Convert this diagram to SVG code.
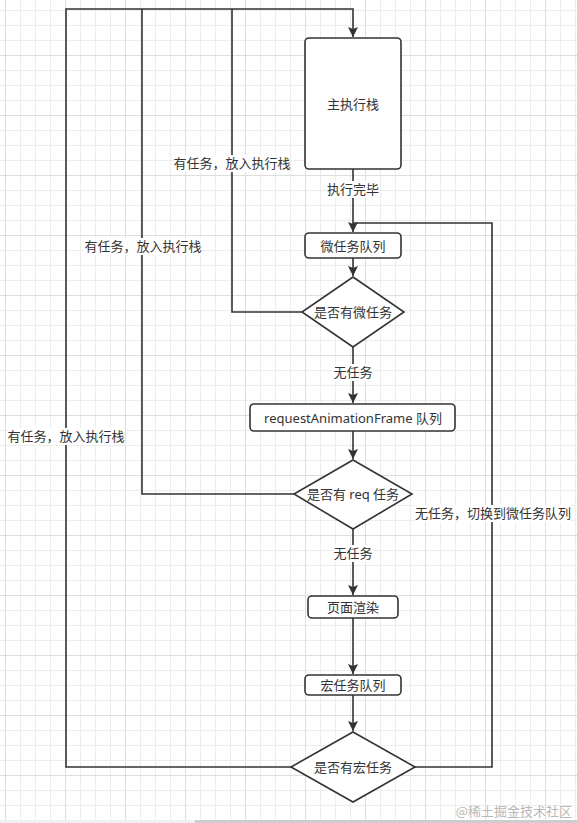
<svg xmlns="http://www.w3.org/2000/svg" width="577" height="823" viewBox="0 0 577 823">
<style>
  .node { fill: #ffffff; stroke: #333333; stroke-width: 1.6; }
  .conn { fill: none; stroke: #333333; stroke-width: 1.6; }
  .t { font-family: "Noto Sans", "Noto Sans CJK SC", sans-serif; font-size: 13px; fill: #333333; text-anchor: middle; dominant-baseline: central; }
  .lbg { fill: #ffffff; }
  .wm { font-family: "Noto Sans CJK SC", sans-serif; font-size: 13px; fill: #b8b8b8; text-anchor: end; dominant-baseline: central; }
</style>
<defs>
  <pattern id="grid" x="5" y="-5" width="60" height="60" patternUnits="userSpaceOnUse">
    <rect x="15" y="0" width="1" height="60" fill="#ededed"/>
    <rect x="30" y="0" width="1" height="60" fill="#ededed"/>
    <rect x="45" y="0" width="1" height="60" fill="#ededed"/>
    <rect x="0" y="15" width="60" height="1" fill="#ededed"/>
    <rect x="0" y="30" width="60" height="1" fill="#ededed"/>
    <rect x="0" y="45" width="60" height="1" fill="#ededed"/>
    <rect x="0" y="0" width="1" height="60" fill="#dedede"/>
    <rect x="0" y="0" width="60" height="1" fill="#dedede"/>
  </pattern>
  <marker id="arr" viewBox="0 0 10 10" refX="10" refY="5" markerWidth="10" markerHeight="10" markerUnits="userSpaceOnUse" orient="auto">
    <path d="M0,0 L10,5 L0,10 L2,5 Z" fill="#333333"/>
  </marker>
</defs>
<rect x="0" y="0" width="577" height="823" fill="#ffffff"/>
<rect x="0" y="0" width="577" height="823" fill="url(#grid)"/>

<g id="connectors">
  <path class="conn" d="M291,767 H66 V9 H353 V37" marker-end="url(#arr)"/>
  <path class="conn" d="M294,494 H142 V9"/>
  <path class="conn" d="M302,312 H232 V9"/>
  <path class="conn" d="M353,169 V232" marker-end="url(#arr)"/>
  <path class="conn" d="M415,767 H492 V223 H353"/>
  <path class="conn" d="M353,258 V276" marker-end="url(#arr)"/>
  <path class="conn" d="M353,347 V403" marker-end="url(#arr)"/>
  <path class="conn" d="M353,431 V459" marker-end="url(#arr)"/>
  <path class="conn" d="M353,529 V595" marker-end="url(#arr)"/>
  <path class="conn" d="M353,618 V674" marker-end="url(#arr)"/>
  <path class="conn" d="M353,695 V731" marker-end="url(#arr)"/>
  <g id="conn-labels">
    <rect class="lbg" x="174" y="155" width="116" height="17"/>
    <text class="t" x="232" y="163">有任务，放入执行栈</text>
    <rect class="lbg" x="84" y="238" width="117" height="17"/>
    <text class="t" x="143" y="246">有任务，放入执行栈</text>
    <rect class="lbg" x="8" y="428" width="117" height="17"/>
    <text class="t" x="66" y="436">有任务，放入执行栈</text>
    <rect class="lbg" x="326" y="181" width="54" height="17"/>
    <text class="t" x="353" y="189">执行完毕</text>
    <rect class="lbg" x="333" y="364" width="40" height="17"/>
    <text class="t" x="353" y="372">无任务</text>
    <rect class="lbg" x="333" y="545" width="40" height="17"/>
    <text class="t" x="353" y="553">无任务</text>
    <rect class="lbg" x="415" y="505" width="156" height="17"/>
    <text class="t" x="493" y="513">无任务，切换到微任务队列</text>
  </g>
</g>

<g id="main-stack">
  <rect class="node" x="305" y="38" width="96" height="131" rx="4"/>
  <text class="t" x="353" y="104">主执行栈</text>
</g>
<g id="micro-queue">
  <rect class="node" x="305" y="233" width="96" height="25" rx="4"/>
  <text class="t" x="353" y="246">微任务队列</text>
</g>
<g id="has-micro">
  <polygon class="node" points="353,277 404,312 353,347 302,312"/>
  <text class="t" x="353" y="312">是否有微任务</text>
</g>
<g id="raf-queue">
  <rect class="node" x="250" y="404" width="205" height="27" rx="4"/>
  <text class="t" x="353" y="418">requestAnimationFrame 队列</text>
</g>
<g id="has-req">
  <polygon class="node" points="353,460 412,494 353,529 294,494"/>
  <text class="t" x="353" y="494">是否有 req 任务</text>
</g>
<g id="render">
  <rect class="node" x="308" y="596" width="90" height="22" rx="4"/>
  <text class="t" x="353" y="607">页面渲染</text>
</g>
<g id="macro-queue">
  <rect class="node" x="305" y="675" width="96" height="20" rx="4"/>
  <text class="t" x="353" y="685">宏任务队列</text>
</g>
<g id="has-macro">
  <polygon class="node" points="353,732 415,767 353,802 291,767"/>
  <text class="t" x="353" y="767">是否有宏任务</text>
</g>

<text class="wm" x="572" y="810">@稀土掘金技术社区</text>
<rect x="0" y="820" width="195" height="3" fill="#f0f0f0"/>
<rect x="195" y="820" width="382" height="3" fill="#cdcdcd"/>
</svg>
